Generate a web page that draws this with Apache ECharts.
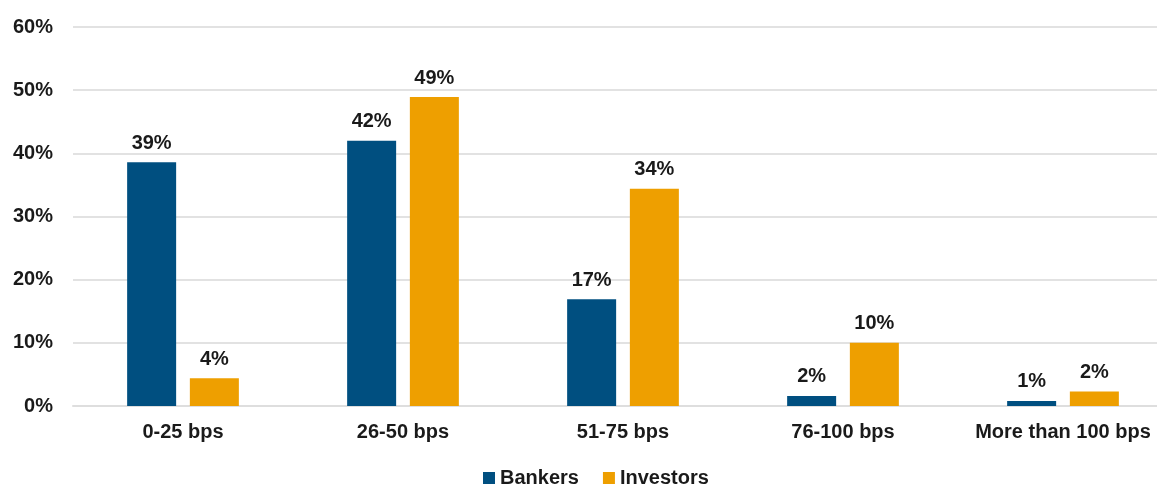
<!DOCTYPE html>
<html>
<head>
<meta charset="utf-8">
<script src="https://cdn.jsdelivr.net/npm/echarts@6/dist/echarts.min.js"></script>
<style>
html,body{margin:0;padding:0;background:#fff;overflow:hidden;width:1157px;height:486px;}
#chart{width:1180px;height:486px;}
</style>
</head>
<body>
<div id="chart"></div>
<script>
const categories = ['0-25 bps', '26-50 bps', '51-75 bps', '76-100 bps', 'More than 100 bps'];
const bankers = [38.6, 42.0, 16.9, 1.6, 0.8];
const investors = [4.4, 48.9, 34.4, 10.0, 2.3];
const seriesNames = ['Bankers', 'Investors'];

const FONT = '"Liberation Sans", Arial, sans-serif';
const TXT = '#1a1a1a';
const chart = echarts.init(document.getElementById('chart'));
const labelCfg = {
  show: true, position: 'top', distance: 9,
  color: TXT, fontFamily: FONT, fontSize: 20, fontWeight: 'bold',
  formatter: p => Math.round(p.value) + '%'
};
chart.setOption({
  animation: false,
  backgroundColor: '#fff',
  grid: { left: 73, right: 7, top: 27, bottom: 80, containLabel: false },
  legend: {
    left: 483, top: 468, padding: 0,
    itemWidth: 12, itemHeight: 12, itemGap: 24,
    icon: 'rect',
    textStyle: { color: TXT, fontFamily: FONT, fontSize: 20, fontWeight: 'bold' },
    data: seriesNames
  },
  xAxis: {
    type: 'category', data: categories,
    axisTick: { show: false },
    axisLine: { show: true, lineStyle: { color: '#dedede', width: 2 } },
    axisLabel: { color: TXT, fontFamily: FONT, fontSize: 20, fontWeight: 'bold', margin: 16, interval: 0 }
  },
  yAxis: {
    type: 'value', min: 0, max: 60, interval: 10,
    axisLine: { show: false }, axisTick: { show: false },
    splitLine: { lineStyle: { color: '#e2e2e2', width: 2 } },
    axisLabel: { color: TXT, fontFamily: FONT, fontSize: 20, fontWeight: 'bold', margin: 20, formatter: '{value}%' }
  },
  series: [
    { name: seriesNames[0], type: 'bar', data: bankers, barWidth: 49, barGap: '28%',
      itemStyle: { color: '#004f80' }, label: labelCfg },
    { name: seriesNames[1], type: 'bar', data: investors, barWidth: 49, barGap: '28%',
      itemStyle: { color: '#ee9f00' }, label: labelCfg }
  ]
});
</script>
</body>
</html>
